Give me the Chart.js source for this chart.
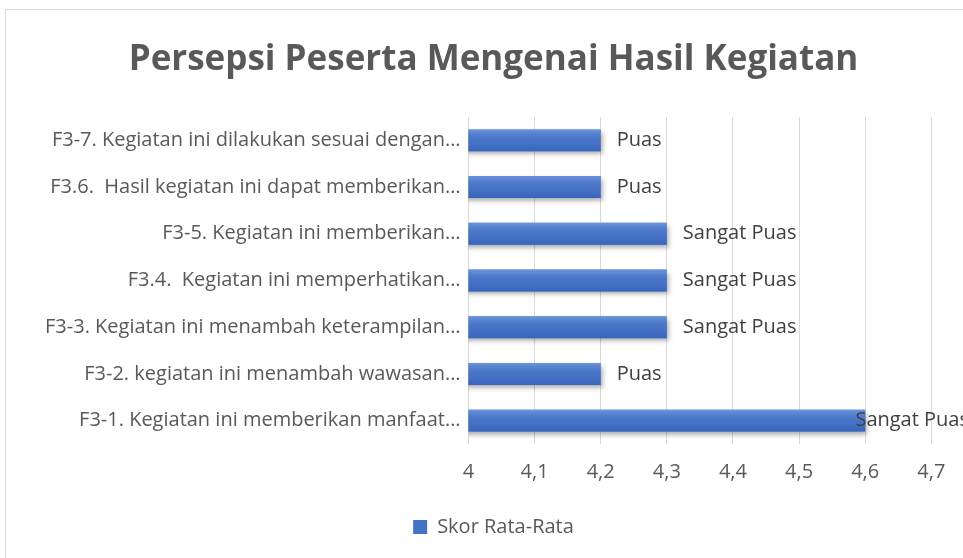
<!DOCTYPE html>
<html>
<head>
<meta charset="utf-8">
<script src="https://cdn.jsdelivr.net/npm/chart.js@4.4.1/dist/chart.umd.min.js"></script>
<style>
  html, body { margin: 0; padding: 0; background: #fff; overflow: hidden; }
  #frame {
    position: absolute; left: 5px; top: 9px;
    width: 975px; height: 560px;
    border: 1px solid #d9d9d9; background: #fff;
  }
  #wrap { position: absolute; left: 0; top: 0; width: 975px; height: 548px; }
</style>
</head>
<body>
<div id="frame"><div id="wrap"><canvas id="myChart"></canvas></div></div>
<script>
// data, bottom to top as in the sheet
const categories = [
  "F3-1. Kegiatan ini memberikan manfaat…",
  "F3-2. kegiatan ini menambah wawasan…",
  "F3-3. Kegiatan ini menambah keterampilan…",
  "F3.4.  Kegiatan ini memperhatikan…",
  "F3-5. Kegiatan ini memberikan…",
  "F3.6.  Hasil kegiatan ini dapat memberikan…",
  "F3-7. Kegiatan ini dilakukan sesuai dengan…",
];
const scores = [4.6, 4.2, 4.3, 4.3, 4.3, 4.2, 4.2];
const ratings = ["Sangat Puas", "Puas", "Sangat Puas", "Sangat Puas", "Sangat Puas", "Puas", "Puas"];
const seriesName = "Skor Rata-Rata";

const FONT = "'Open Sans', sans-serif";
const GREY = "#595959";

// shadow + soft gradient on the bars
const barLook = {
  id: "barLook",
  beforeDatasetsDraw(chart) {
    const c = chart.ctx;
    c.save();
    c.shadowColor = "rgba(0,0,0,0.35)";
    c.shadowBlur = 5;
    c.shadowOffsetX = 2;
    c.shadowOffsetY = 3;
  },
  afterDatasetsDraw(chart) {
    const c = chart.ctx;
    c.restore();
    const xs = chart.scales.x;
    const left = xs.getPixelForValue(xs.min);
    const meta = chart.getDatasetMeta(0);
    meta.data.forEach((bar) => {
      const p = bar.getProps(["x", "y", "height"], true);
      const top = p.y - p.height / 2;
      const g = c.createLinearGradient(0, top, 0, top + p.height);
      g.addColorStop(0, "rgba(120,158,228,0.8)");
      g.addColorStop(0.5, "rgba(80,120,205,0.2)");
      g.addColorStop(1, "rgba(40,85,180,0.5)");
      c.save();
      c.fillStyle = g;
      c.fillRect(left, top, p.x - left, p.height);
      c.restore();
    });
  },
};

// "Puas" / "Sangat Puas" after each bar
const ratingLabels = {
  id: "ratingLabels",
  afterDraw(chart) {
    const c = chart.ctx;
    const area = chart.chartArea;
    const meta = chart.getDatasetMeta(0);
    c.save();
    c.font = "20px " + FONT;
    c.fillStyle = "#404040";
    c.textBaseline = "middle";
    c.textAlign = "left";
    meta.data.forEach((bar, i) => {
      const p = bar.getProps(["x", "y"], true);
      const txt = ratings[i];
      const w = c.measureText(txt).width;
      let x = p.x + 16;
      if (x + w > area.right - 2) x = area.right - 2 - w;
      c.fillText(txt, x, p.y);
    });
    c.restore();
  },
};

document.addEventListener("DOMContentLoaded", function () {
  const ctx = document.getElementById("myChart").getContext("2d");
  new Chart(ctx, {
    type: "bar",
    data: {
      labels: categories,
      datasets: [
        {
          label: seriesName,
          data: scores,
          backgroundColor: "#4472c4",
          borderWidth: 0,
          categoryPercentage: 1,
          barPercentage: 0.47,
        },
      ],
    },
    options: {
      indexAxis: "y",
      responsive: true,
      maintainAspectRatio: false,
      animation: false,
      layout: { padding: { left: 10, right: 10, top: 0, bottom: 11 } },
      scales: {
        x: {
          min: 4,
          max: 4.76,
          grid: { color: "#d9d9d9", drawTicks: false },
          border: { display: false },
          ticks: {
            stepSize: 0.1,
            includeBounds: false,
            padding: 16,
            color: GREY,
            font: { family: FONT, size: 20 },
            callback: (v) => (Math.abs(v - 4) < 1e-9 ? "4" : v.toFixed(1).replace(".", ",")),
          },
        },
        y: {
          reverse: true,
          grid: { display: false },
          border: { display: false },
          afterFit: (s) => { s.width += 29; },
          ticks: {
            padding: 0,
            color: GREY,
            font: { family: FONT, size: 20 },
          },
        },
      },
      plugins: {
        title: {
          display: true,
          text: "Persepsi Peserta Mengenai Hasil Kegiatan",
          color: GREY,
          font: { family: FONT, size: 35, weight: "bold" },
          padding: { top: 29, bottom: 36 },
        },
        legend: {
          position: "bottom",
          labels: {
            boxWidth: 14,
            boxHeight: 14,
            padding: 17,
            color: GREY,
            font: { family: FONT, size: 20 },
          },
        },
        tooltip: { enabled: false },
      },
    },
    plugins: [barLook, ratingLabels],
  });
});
</script>
</body>
</html>
